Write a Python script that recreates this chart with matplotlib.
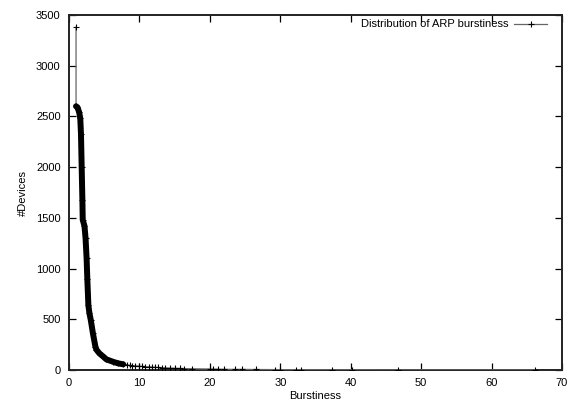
import matplotlib
matplotlib.use("Agg")
import matplotlib.pyplot as plt

plt.rcParams['font.family'] = ['Liberation Sans', 'DejaVu Sans']

# Peak point
peak_x = [1.0]
peak_y = [3380]

# Dense part of the curve (key points)
dense_x = [1.0, 1.2, 1.45, 1.6, 1.7, 1.8, 1.9, 1.95, 2.2, 2.35, 2.5, 2.6,
           2.75, 2.9, 3.1, 3.4, 3.75, 3.9, 4.3, 4.9, 5.3, 6.3, 7.0, 7.7]
dense_y = [2600, 2590, 2540, 2480, 2330, 2000, 1680, 1480, 1420, 1300, 1100, 900,
           640, 560, 490, 360, 230, 200, 165, 130, 105, 80, 65, 56]

# Sparse tail
tail_x = [8.2, 8.6, 8.9, 9.4, 10.0, 10.3, 10.8, 11.4, 11.8, 12.2, 12.7, 13.2,
          13.7, 14.4, 15.1, 15.8, 16.3, 17.5, 20.0, 20.5, 21.2, 22.0, 23.6, 24.5,
          26.6, 29.3, 30.0, 32.3, 33.0, 37.3, 40.2, 46.7, 66.1]
tail_y = [50, 47, 44, 41, 38, 36, 33, 31, 29, 27, 25, 23,
          21, 19, 17, 15, 14, 12, 10, 9, 8, 7, 6, 6,
          5, 4, 4, 3, 3, 2, 2, 1, 1]

x_ticks = [0, 10, 20, 30, 40, 50, 60, 70]
y_ticks = [0, 500, 1000, 1500, 2000, 2500, 3000, 3500]

fig = plt.figure(figsize=(5.69, 4.03), dpi=100)
ax = fig.add_axes([69/569, 1-370/403, (562-69)/569, (370-15)/403])

all_x = peak_x + dense_x + tail_x
all_y = peak_y + dense_y + tail_y

# full series with crosses
ax.plot(all_x, all_y, color='#666666', lw=0.9, marker='+', ms=5,
        mec='black', mew=0.8, zorder=3, label='Distribution of ARP burstiness')
# thick dense band of overlapping crosses
ax.plot(dense_x, dense_y, color='black', lw=4.3, solid_capstyle='round',
        solid_joinstyle='round', zorder=4)

ax.set_xlim(0, 70)
ax.set_ylim(0, 3500)
ax.set_xticks(x_ticks)
ax.set_yticks(y_ticks)
ax.tick_params(direction='in', length=5, width=0.9, top=True, right=True,
               labelsize=8, pad=6, colors='black')
for s in ax.spines.values():
    s.set_linewidth(1.4)
    s.set_color('#222222')

ax.set_xlabel('Burstiness', fontsize=8, labelpad=2)
ax.set_ylabel('#Devices', fontsize=8, labelpad=6)

leg = ax.legend(loc='upper right', bbox_to_anchor=(0.979, 1.0), frameon=False,
                markerfirst=False, fontsize=8, handlelength=3.0,
                borderaxespad=0.0, handletextpad=0.5)

fig.savefig('out.png', dpi=100)
